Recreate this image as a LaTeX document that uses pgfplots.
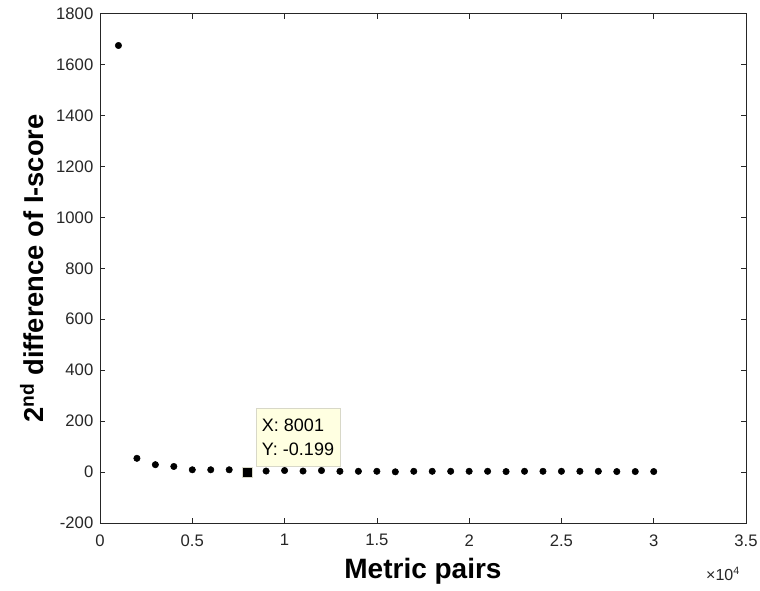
\documentclass[border=0pt]{standalone}
\usepackage{fontspec}
\setmainfont{Liberation Sans}
\usepackage{pgfplots}
\pgfplotsset{compat=1.18}
\definecolor{axgray}{HTML}{262626}
\definecolor{tipfill}{HTML}{FFFFE1}
\definecolor{tipedge}{HTML}{D8D8C8}
\begin{document}
\begin{tikzpicture}
\begin{axis}[
    scale only axis,
    width=484.5pt, height=382pt,
    xmin=0, xmax=35000, ymin=-200, ymax=1800,
    xtick={0,5000,...,35000},
    ytick={-200,0,...,1800},
    scaled x ticks=base 10:-4,
    xtick scale label code/.code={×10\textsuperscript{4}},
    every x tick scale label/.style={at={(axis description cs:1,0)}, anchor=east, yshift=-33pt, xshift=-1pt, font=\fontsize{12}{14}\selectfont, text=axgray},
    /pgf/number format/assume math mode=true,
    /pgf/number format/1000 sep={},
    tick align=inside, tick pos=both,
    major tick length=3.75pt,
    axis line style={axgray, line width=0.5pt},
    tick style={axgray, line width=0.5pt},
    ticklabel style={font=\fontsize{12.5}{14}\selectfont, text=axgray},
    xticklabel style={yshift=-5pt},
    yticklabel style={xshift=-1.5pt},
    xlabel={\textbf{Metric pairs}},
    ylabel={\textbf{2\textsuperscript{nd} difference of I-score}},
    xlabel style={font=\fontsize{21}{24}\selectfont, at={(axis description cs:0.5,0)}, anchor=center, yshift=-36.5pt},
    ylabel style={font=\fontsize{20.5}{24}\selectfont, at={(axis description cs:-0.105,0.5)}, anchor=center},
    clip=false,
]
\addplot[only marks, mark=*, mark size=2.4pt, black] coordinates {
(1000,1675) (2000,54) (3000,29) (4000,22) (5000,9) (6000,9) (7000,9)
(9000,4) (10000,6) (11000,4) (12000,6) (13000,3) (14000,3) (15000,3)
(16000,1) (17000,3) (18000,3) (19000,3) (20000,3) (21000,3) (22000,2)
(23000,3) (24000,3) (25000,3) (26000,3) (27000,3) (28000,2) (29000,2) (30000,2)
};
\addplot[only marks, mark=square*, mark size=3.8pt, mark options={fill=black, draw=tipedge, line width=0.4pt}] coordinates {(8001,-0.199)};
\node[anchor=south west, fill=tipfill, draw=tipedge, line width=0.5pt, align=left,
      font=\fontsize{13.5}{18}\selectfont, inner sep=3pt, minimum width=63pt, minimum height=43.5pt, text=black]
      at (axis cs:8001,-0.199) [xshift=6pt, yshift=4pt] {X: 8001\\Y: -0.199};
\end{axis}
\pgfresetboundingbox
\path (current axis.south west) ++(-75pt,-51pt) rectangle ++(570pt,443.25pt);
\end{tikzpicture}
\end{document}
